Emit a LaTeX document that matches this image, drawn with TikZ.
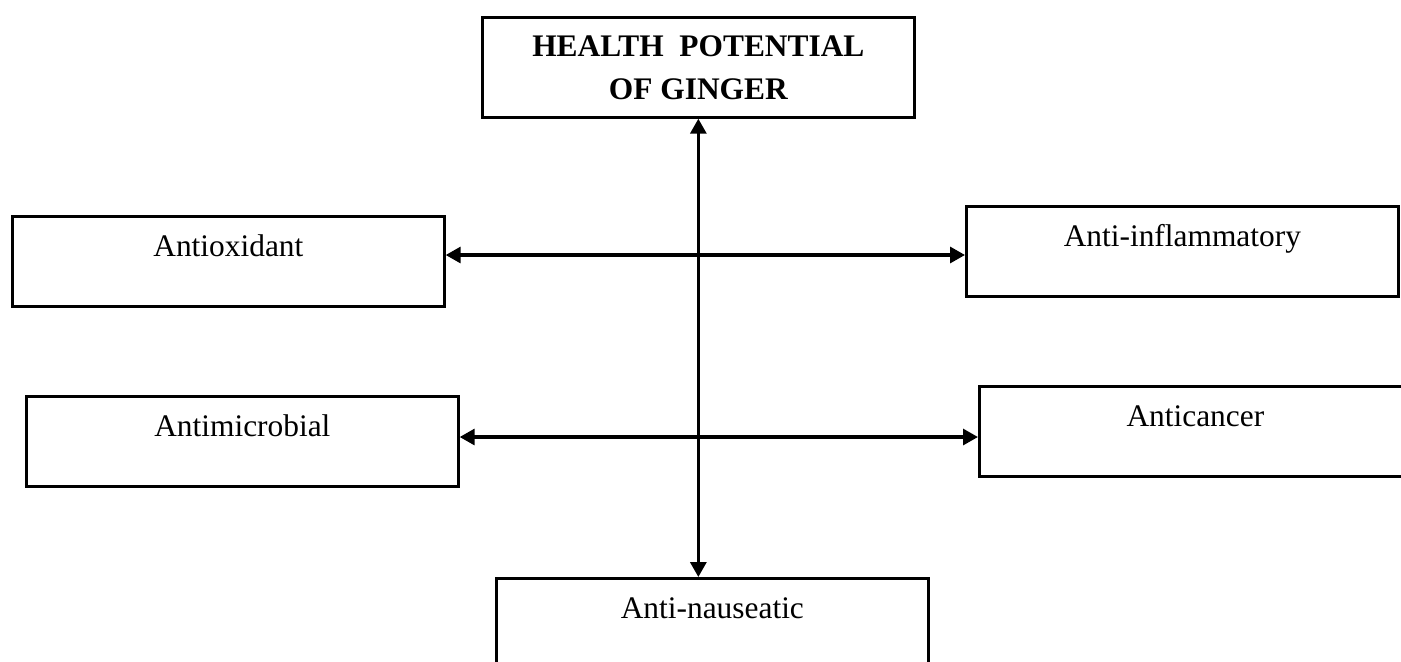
\documentclass[tikz,border=0pt]{standalone}
\usepackage{fontspec}
\setmainfont{Liberation Serif}
\usetikzlibrary{arrows.meta}

\tikzset{
  box/.style={draw, line width=1.35pt, rectangle, inner sep=0pt, anchor=north west,
    minimum width=216pt, text height=20pt, text depth=25pt,
    font=\fontsize{15.7}{21.5}\selectfont},
  titlebox/.style={draw, line width=1.35pt, rectangle, inner sep=0pt, anchor=north west,
    minimum width=216pt, minimum height=50pt, align=center,
    font=\fontsize{15.7}{21.5}\selectfont\bfseries},
  link/.style={line width=1.6pt, {Triangle[length=7.5pt,width=8pt]}-{Triangle[length=7.5pt,width=8pt]}}
}

\begin{document}
\begin{tikzpicture}[x=0.5pt, y=-0.5pt]
  \useasboundingbox (0,0) rectangle (1401,661);
  \clip (0,0) rectangle (1401,661);

  % central box and the five properties
  \node[titlebox] (hp) at (481,16) {HEALTH~~POTENTIAL\\OF GINGER};
  \node[box] (aox)  at (11,215)  {Antioxidant};
  \node[box] (ainf) at (965,205) {Anti-inflammatory};
  \node[box] (amic) at (25,395)  {Antimicrobial};
  \node[box] (acan) at (978,385) {Anticancer};
  \node[box, text depth=45pt] (anau) at (495,577) {Anti-nauseatic};

  % levels of the two horizontal links
  \coordinate (row1) at (697,255);
  \coordinate (row2) at (697,437);

  % connectors
  \draw[link] (hp.south) -- (hp.south |- anau.north);
  \draw[link] (row1 -| aox.east) -- (row1 -| ainf.west);
  \draw[link] (row2 -| amic.east) -- (row2 -| acan.west);
\end{tikzpicture}
\end{document}
